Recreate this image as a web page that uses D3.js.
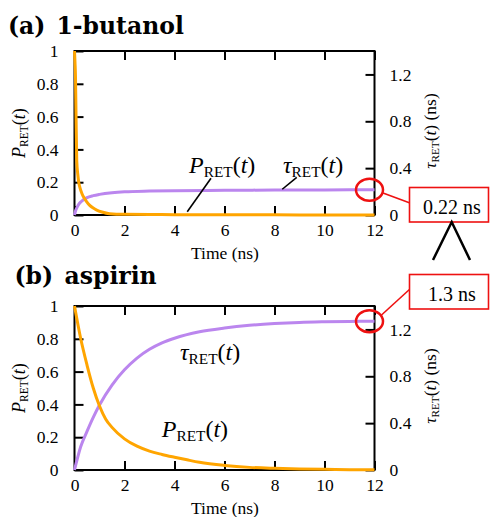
<!DOCTYPE html>
<html>
<head>
<meta charset="utf-8">
<script src="https://cdn.jsdelivr.net/npm/d3@7"></script>
<style>
  body { margin: 0; background: #fff; }
  text { fill: #000; }
</style>
</head>
<body>
<div id="chart"></div>
<script>
// data
const titles = [["(a)", "1-butanol"], ["(b)", "aspirin"]];
const xTicks = [0, 2, 4, 6, 8, 10, 12];
const leftTicks = [0, 0.2, 0.4, 0.6, 0.8, 1];
const rightTicks = [0, 0.4, 0.8, 1.2];
const boxLabels = ["0.22 ns", "1.3 ns"];

// (a) 1-butanol
const timeAp = [0, 0.02, 0.04, 0.06, 0.09, 0.13, 0.18, 0.22, 0.3, 0.4, 0.49, 0.6, 0.75, 0.89, 1.1, 1.4, 2, 3, 4, 6, 8, 10, 12];
const pA = [1, 0.93, 0.84, 0.62, 0.33, 0.25, 0.19, 0.166, 0.13, 0.1, 0.08, 0.06, 0.042, 0.03, 0.018, 0.008, 0.004, 0.003, 0.002, 0.001, 0.001, 0.0, 0.0];
const timeAt = [0, 0.05, 0.1, 0.2, 0.3, 0.5, 0.75, 1, 1.5, 2, 3, 4, 6, 8, 10, 12];
const tauA = [0, 0.04, 0.065, 0.1, 0.12, 0.148, 0.165, 0.176, 0.19, 0.198, 0.204, 0.207, 0.211, 0.213, 0.214, 0.215];

// (b) aspirin
const timeBp = [0, 0.25, 0.5, 0.75, 1, 1.25, 1.5, 2, 2.5, 3, 3.5, 4, 4.5, 5, 6, 7, 8, 9, 10, 11, 12];
const pB = [1, 0.8, 0.64, 0.5, 0.39, 0.31, 0.26, 0.19, 0.145, 0.115, 0.095, 0.078, 0.062, 0.047, 0.028, 0.016, 0.01, 0.006, 0.004, 0.002, 0.001];
const timeBt = [0, 0.25, 0.5, 0.75, 1, 1.5, 2, 2.5, 3, 3.5, 4, 5, 6, 7, 8, 9, 10, 11, 12];
const tauB = [0, 0.2, 0.33, 0.45, 0.555, 0.725, 0.855, 0.955, 1.03, 1.085, 1.125, 1.18, 1.212, 1.235, 1.25, 1.26, 1.265, 1.268, 1.27];

const orange = "#ffa500";
const purple = "#bb86ee";
const red = "#ee1111";
const serif = "Liberation Serif, Times New Roman, serif";

const width = 490, height = 517;
const svg = d3.select("#chart").append("svg")
  .attr("width", width).attr("height", height);

const x = d3.scaleLinear().domain([0, 12]).range([74.5, 374.5]);

// writes P_RET(t) or tau_RET(t) into a text element
function mathLabel(t, sym, size) {
  t.style("font-family", serif);
  t.append("tspan").style("font-style", "italic").style("font-size", size + "px").text(sym);
  t.append("tspan").style("font-size", size * 0.64 + "px").attr("dy", size * 0.16).text("RET");
  t.append("tspan").style("font-size", size + "px").attr("dy", -size * 0.16).text("(");
  t.append("tspan").style("font-style", "italic").style("font-size", size + "px").text("t");
  t.append("tspan").style("font-size", size + "px").text(")");
}

function panel(top, title, tx, ty, tp, pv, tt, tv, labels) {
  const y = d3.scaleLinear().domain([0, 1]).range([top + 164, top]);
  const yR = d3.scaleLinear().domain([0, 1.4]).range([top + 164, top]);
  const g = svg.append("g");

  g.append("text").attr("x", tx[0]).attr("y", ty)
    .style("font-family", "DejaVu Serif").style("font-weight", "bold")
    .style("font-size", "23.5px").text(title[0]);
  g.append("text").attr("x", tx[1]).attr("y", ty)
    .style("font-family", "DejaVu Serif").style("font-weight", "bold")
    .style("font-size", "23.5px").text(title[1]);

  // axes, ticks inward
  g.append("g").attr("transform", `translate(0,${top + 164})`)
    .call(d3.axisBottom(x).tickValues(xTicks).tickSize(-9).tickSizeOuter(0).tickPadding(9));
  g.append("g").attr("transform", `translate(0,${top})`)
    .call(d3.axisTop(x).tickValues(xTicks).tickSize(-9).tickSizeOuter(0).tickFormat(""));
  g.append("g").attr("transform", `translate(${x(0)},0)`)
    .call(d3.axisLeft(y).tickValues(leftTicks).tickSize(-9).tickSizeOuter(0).tickPadding(16)
      .tickFormat(d => d));
  g.append("g").attr("transform", `translate(${x(12)},0)`)
    .call(d3.axisRight(yR).tickValues(rightTicks).tickSize(-9).tickSizeOuter(0).tickPadding(15)
      .tickFormat(d => d));
  g.selectAll(".domain").remove();
  g.selectAll(".tick line").attr("stroke", "#000").attr("stroke-width", 2);
  g.selectAll(".tick text").style("font-size", "17.5px").style("font-family", serif);

  g.append("rect").attr("x", x(0)).attr("y", top).attr("width", x(12) - x(0)).attr("height", 164)
    .attr("fill", "none").attr("stroke", "#000").attr("stroke-width", 2);

  g.append("text").attr("x", 225).attr("y", top + 208).attr("text-anchor", "middle")
    .style("font-family", serif).style("font-size", "17.5px").text("Time (ns)");

  const lt = g.append("text").attr("transform", `translate(25,${top + 82}) rotate(-90)`)
    .attr("text-anchor", "middle");
  mathLabel(lt, "P", 18);
  const rt = g.append("text").attr("transform", `translate(436,${top + 80}) rotate(-90)`)
    .attr("text-anchor", "middle");
  mathLabel(rt, "τ", 17.5);
  rt.append("tspan").style("font-size", "17.5px").text(" (ns)");

  const line = (ys) => d3.line().x(d => x(d[0])).y(d => ys(d[1])).curve(d3.curveMonotoneX);
  g.append("path").datum(tt.map((t, i) => [t, tv[i]]))
    .attr("d", line(yR)).attr("fill", "none").attr("stroke", purple).attr("stroke-width", 3);
  g.append("path").datum(tp.map((t, i) => [t, pv[i]]))
    .attr("d", line(y)).attr("fill", "none").attr("stroke", orange).attr("stroke-width", 3);

  // curve labels
  const pl = g.append("text").attr("x", x(labels.p[0])).attr("y", y(labels.p[1]));
  mathLabel(pl, "P", 24);
  const tl = g.append("text").attr("x", x(labels.tau[0])).attr("y", y(labels.tau[1]));
  mathLabel(tl, "τ", 24);
  if (labels.pLine) {
    g.append("line").attr("x1", x(labels.pLine[0])).attr("y1", y(labels.pLine[1]))
      .attr("x2", x(labels.pLine[2])).attr("y2", y(labels.pLine[3]))
      .attr("stroke", "#000").attr("stroke-width", 1.6);
    g.append("line").attr("x1", x(labels.tLine[0])).attr("y1", y(labels.tLine[1]))
      .attr("x2", x(labels.tLine[2])).attr("y2", y(labels.tLine[3]))
      .attr("stroke", "#000").attr("stroke-width", 1.6);
  }
  return { g, y, yR };
}

const pa = panel(51, titles[0], [8, 56.5], 33.5, timeAp, pA, timeAt, tauA,
  { p: [4.58, 0.255], tau: [8.34, 0.255],
    pLine: [5.46, 0.224, 4.51, 0.02], tLine: [8.89, 0.23, 8.31, 0.157] });
const pb = panel(306, titles[1], [14.5, 64.5], 283.5, timeBp, pB, timeBt, tauB,
  { p: [3.49, 0.203], tau: [4.22, 0.67] });

// red call-outs on the final tau value
function callout(p, tauEnd, boxTop, lineTo, text) {
  const cx = x(11.8), cy = p.yR(tauEnd);
  p.g.append("ellipse").attr("cx", cx).attr("cy", cy).attr("rx", 13.5).attr("ry", 11)
    .attr("fill", "none").attr("stroke", red).attr("stroke-width", 2.5);
  p.g.append("line").attr("x1", lineTo[0]).attr("y1", lineTo[1]).attr("x2", 410).attr("y2", lineTo[2])
    .attr("stroke", red).attr("stroke-width", 1.6);
  p.g.append("rect").attr("x", 409.5).attr("y", boxTop).attr("width", 79).attr("height", 34.5)
    .attr("fill", "#fff").attr("stroke", red).attr("stroke-width", 1.6);
  p.g.append("text").attr("x", 452).attr("y", boxTop + 26).attr("text-anchor", "middle")
    .style("font-family", serif).style("font-size", "20px").text(text);
}
callout(pa, tauA[tauA.length - 1], 187.5, [383, 193, 203], boxLabels[0]);
callout(pb, tauB[tauB.length - 1], 274.5, [381.5, 315, 289], boxLabels[1]);

// wedge between the two boxes
svg.append("path").attr("d", "M433,260 L451.7,222 L470,260")
  .attr("fill", "none").attr("stroke", "#000").attr("stroke-width", 2.5);
</script>
</body>
</html>
